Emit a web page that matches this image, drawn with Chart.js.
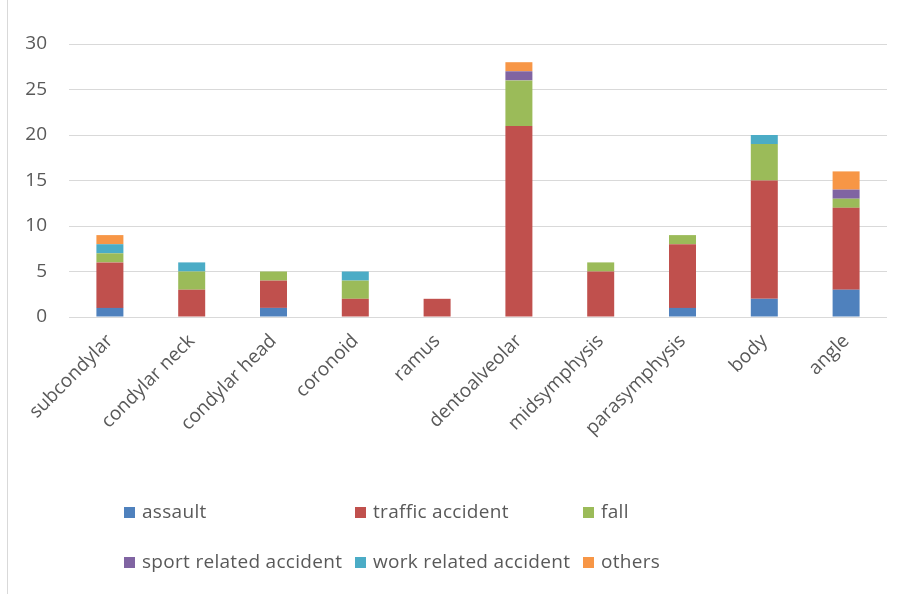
<!DOCTYPE html>
<html>
<head>
<meta charset="utf-8">
<script src="https://cdn.jsdelivr.net/npm/chart.js@4/dist/chart.umd.min.js"></script>
<style>
  body { margin: 0; background: #fff; }
  #wrap { position: relative; width: 899px; height: 594px; }
  #frame { position: absolute; left: 7px; top: 0; width: 1px; height: 594px; background: #d9d9d9; }
  #legend { position: absolute; left: 0; top: 0; width: 899px; height: 594px; pointer-events: none;
    font-family: "Open Sans", sans-serif; font-size: 19px; letter-spacing: 0.3px; color: #595959; }
  .item { position: absolute; white-space: nowrap; line-height: 22px; }
  .box { display: inline-block; width: 11px; height: 11px; margin-right: 7px; vertical-align: 0px; }
</style>
</head>
<body>
<div id="wrap">
  <div id="frame"></div>
  <canvas id="chart" width="899" height="594"></canvas>
  <div id="legend"></div>
</div>
<script>
const categories = ["subcondylar", "condylar neck", "condylar head", "coronoid", "ramus",
  "dentoalveolar", "midsymphysis", "parasymphysis", "body", "angle"];
const seriesNames = ["assault", "traffic accident", "fall", "sport related accident", "work related accident", "others"];
const assault = [1, 0, 1, 0, 0, 0, 0, 1, 2, 3];
const traffic = [5, 3, 3, 2, 2, 21, 5, 7, 13, 9];
const fall    = [1, 2, 1, 2, 0, 5, 1, 1, 4, 1];
const sport   = [0, 0, 0, 0, 0, 1, 0, 0, 0, 1];
const work    = [1, 1, 0, 1, 0, 0, 0, 0, 1, 0];
const others  = [1, 0, 0, 0, 0, 1, 0, 0, 0, 2];
const colors = ["#4f81bd", "#c0504d", "#9bbb59", "#8064a2", "#4bacc6", "#f79646"];
const yTicks = [0, 5, 10, 15, 20, 25, 30];

const seriesValues = [assault, traffic, fall, sport, work, others];
const datasets = seriesNames.map((name, i) => ({
  label: name,
  data: seriesValues[i],
  backgroundColor: colors[i],
  borderWidth: 0,
  barPercentage: 0.33,
  categoryPercentage: 1
}));

const fontFam = '"Open Sans", sans-serif';

new Chart(document.getElementById("chart"), {
  type: "bar",
  data: { labels: categories, datasets: datasets },
  options: {
    responsive: false,
    animation: false,
    layout: { padding: { top: 44, right: 12, left: 0, bottom: 0 } },
    plugins: { legend: { display: false }, tooltip: { enabled: false } },
    scales: {
      x: {
        stacked: true,
        grid: { display: false },
        border: { display: false },
        ticks: {
          color: "#595959",
          font: { family: fontFam, size: 19 },
          minRotation: 45,
          maxRotation: 45,
          padding: 5
        },
        afterFit: (scale) => { scale.height = 594 - 317; }
      },
      y: {
        stacked: true,
        min: 0,
        max: 30,
        afterBuildTicks: (scale) => { scale.ticks = yTicks.map(v => ({ value: v })); },
        grid: { color: "#d9d9d9", lineWidth: 1, drawTicks: false },
        border: { display: false },
        ticks: {
          color: "#595959",
          font: { family: fontFam, size: 19 },
          padding: 22
        },
        afterFit: (scale) => { scale.width = 69; }
      }
    }
  }
});

// legend laid out in three columns like the original
const legend = document.getElementById("legend");
const colX = [124, 355, 583];
const rowY = [500, 550];
seriesNames.forEach((name, i) => {
  const d = document.createElement("div");
  d.className = "item";
  d.style.left = colX[i % 3] + "px";
  d.style.top = rowY[Math.floor(i / 3)] + "px";
  d.innerHTML = '<span class="box" style="background:' + colors[i] + '"></span>' + name;
  legend.appendChild(d);
});
</script>
</body>
</html>
